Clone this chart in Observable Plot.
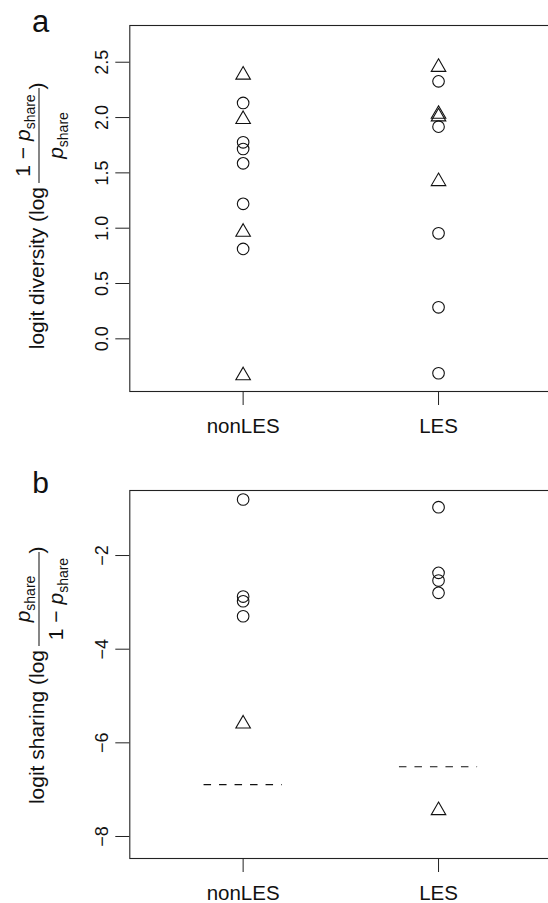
<!DOCTYPE html>
<html>
<head>
<meta charset="utf-8">
<script src="https://cdn.jsdelivr.net/npm/d3@7"></script>
<script src="https://cdn.jsdelivr.net/npm/@observablehq/plot@0.6"></script>
<style>
html, body { margin: 0; padding: 0; background: #fff; overflow: hidden; }
#chart { width: 548px; height: 903px; overflow: hidden; }
#chart svg { display: block; max-width: none !important; }
</style>
</head>
<body>
<div id="chart"></div>
<script>
const FONT = "'Liberation Sans', Arial, Helvetica, sans-serif";

// categories
const groups = ["nonLES", "LES"];

// panel a: logit diversity
const divGroup = ["nonLES","nonLES","nonLES","nonLES","nonLES","nonLES","nonLES","nonLES","nonLES","nonLES",
                  "LES","LES","LES","LES","LES","LES","LES","LES","LES"];
const divValue = [2.385, 2.132, 1.984, 1.776, 1.716, 1.586, 1.220, 0.965, 0.813, -0.332,
                  2.455, 2.327, 2.031, 2.008, 1.918, 1.423, 0.954, 0.285, -0.311];
const divShape = ["triangle","circle","triangle","circle","circle","circle","circle","triangle","circle","triangle",
                  "triangle","circle","triangle","triangle","circle","triangle","circle","circle","circle"];
const divTicks = [0, 0.5, 1, 1.5, 2, 2.5];

// panel b: logit sharing
const shareGroup = ["nonLES","nonLES","nonLES","nonLES","nonLES",
                    "LES","LES","LES","LES","LES"];
const shareValue = [-0.803, -2.876, -2.976, -3.297, -5.594,
                    -0.968, -2.370, -2.534, -2.797, -7.444];
const shareShape = ["circle","circle","circle","circle","triangle",
                    "circle","circle","circle","circle","triangle"];
const shareCutoff = [-6.893, -6.509]; // dashed reference line per group
const shareTicks = [-8, -6, -4, -2];

const pos = g => groups.indexOf(g) + 1;

function panel({group, value, shape, ticks, tickFormat, yDomain, height, marginTop, marginBottom, cutoffs}) {
  const rows = value.map((v, i) => ({group: group[i], x: pos(group[i]), value: v, shape: shape[i]}));
  const marks = [
    Plot.frame({stroke: "#222", strokeWidth: 1.1}),
    Plot.axisY({ticks, tickFormat, tickSize: 14, tickPadding: 8, tickRotate: -90, fontSize: 18, stroke: "#222", label: null}),
    Plot.axisX({ticks: groups.map(pos), tickFormat: i => groups[i - 1], tickSize: 14, tickPadding: 13, fontSize: 20.5, stroke: "#222", label: null}),
    Plot.dot(rows.filter(d => d.shape === "circle"), {x: "x", y: "value", r: 5.8, stroke: "#111", strokeWidth: 1.1, fill: "none"}),
    Plot.dot(rows.filter(d => d.shape === "triangle"), {x: "x", y: "value", symbol: "triangle", r: 5.4, stroke: "#111", strokeWidth: 1.1, fill: "none"})
  ];
  if (cutoffs) {
    const lines = cutoffs.map((c, i) => ({x: pos(groups[i]), value: c}));
    marks.push(Plot.ruleY(lines, {y: "value", x1: d => d.x - 0.2, x2: d => d.x + 0.2, stroke: "#111", strokeWidth: 1.1, strokeDasharray: "7.5,8"}));
  }
  return Plot.plot({
    width: 570,
    height,
    marginLeft: 129.3,
    marginRight: 0,
    marginTop,
    marginBottom,
    style: {fontFamily: FONT, fontSize: "18px", color: "#111", background: "white", maxWidth: "none"},
    x: {type: "linear", domain: [0.42, 0.42 + (570 - 129.3) / 195.4], axis: null},
    y: {domain: yDomain, axis: null},
    marks
  });
}

function addTitle(svg, {tx, ty, barLen, main, num, den, letter, letterY, letterSize}) {
  const root = d3.select(svg);
  root.append("text").attr("x", 40.5).attr("y", letterY).attr("font-family", FONT)
    .attr("font-size", letterSize).attr("fill", "#111").text(letter);
  const g = root.append("g")
    .attr("transform", `translate(${tx},${ty}) rotate(-90)`)
    .attr("font-family", FONT).attr("fill", "#111");
  g.append("text").attr("x", -4).attr("y", 5).attr("text-anchor", "end").attr("font-size", 21).text(main);
  g.append("line").attr("x1", 0).attr("x2", barLen).attr("y1", 0).attr("y2", 0)
    .attr("stroke", "#222").attr("stroke-width", 1.1);
  const frac = (parts, y) => {
    const t = g.append("text").attr("x", barLen / 2).attr("y", y).attr("text-anchor", "middle").attr("font-size", 21);
    parts.forEach(p => {
      const s = t.append("tspan").text(p.t);
      if (p.italic) s.attr("font-style", "italic");
      if (p.sub) s.attr("font-size", 14).attr("dy", 5);
    });
  };
  frac(num, -9);
  frac(den, 24);
  g.append("text").attr("x", barLen + 2).attr("y", 5).attr("font-size", 21).text(")");
}

const chart = document.getElementById("chart");

const pA = panel({
  group: divGroup, value: divValue, shape: divShape,
  ticks: divTicks, tickFormat: d3.format(".1f"),
  yDomain: [-0.476, 2.832], height: 460, marginTop: 25, marginBottom: 69
});
chart.append(pA);
addTitle(pA, {
  tx: 39, ty: 183, barLen: 95,
  main: "logit diversity (log",
  num: [{t: "1 \u2212 "}, {t: "p", italic: true}, {t: "share", sub: true}],
  den: [{t: "p", italic: true}, {t: "share", sub: true}],
  letter: "a", letterY: 31.7, letterSize: 31
});

const pB = panel({
  group: shareGroup, value: shareValue, shape: shareShape,
  ticks: shareTicks, tickFormat: d3.format("d"),
  yDomain: [-8.470, -0.611], height: 443, marginTop: 30, marginBottom: 45,
  cutoffs: shareCutoff
});
chart.append(pB);
addTitle(pB, {
  tx: 39, ty: 186, barLen: 94,
  main: "logit sharing (log",
  num: [{t: "p", italic: true}, {t: "share", sub: true}],
  den: [{t: "1 \u2212 "}, {t: "p", italic: true}, {t: "share", sub: true}],
  letter: "b", letterY: 33.3, letterSize: 30
});
</script>
</body>
</html>
